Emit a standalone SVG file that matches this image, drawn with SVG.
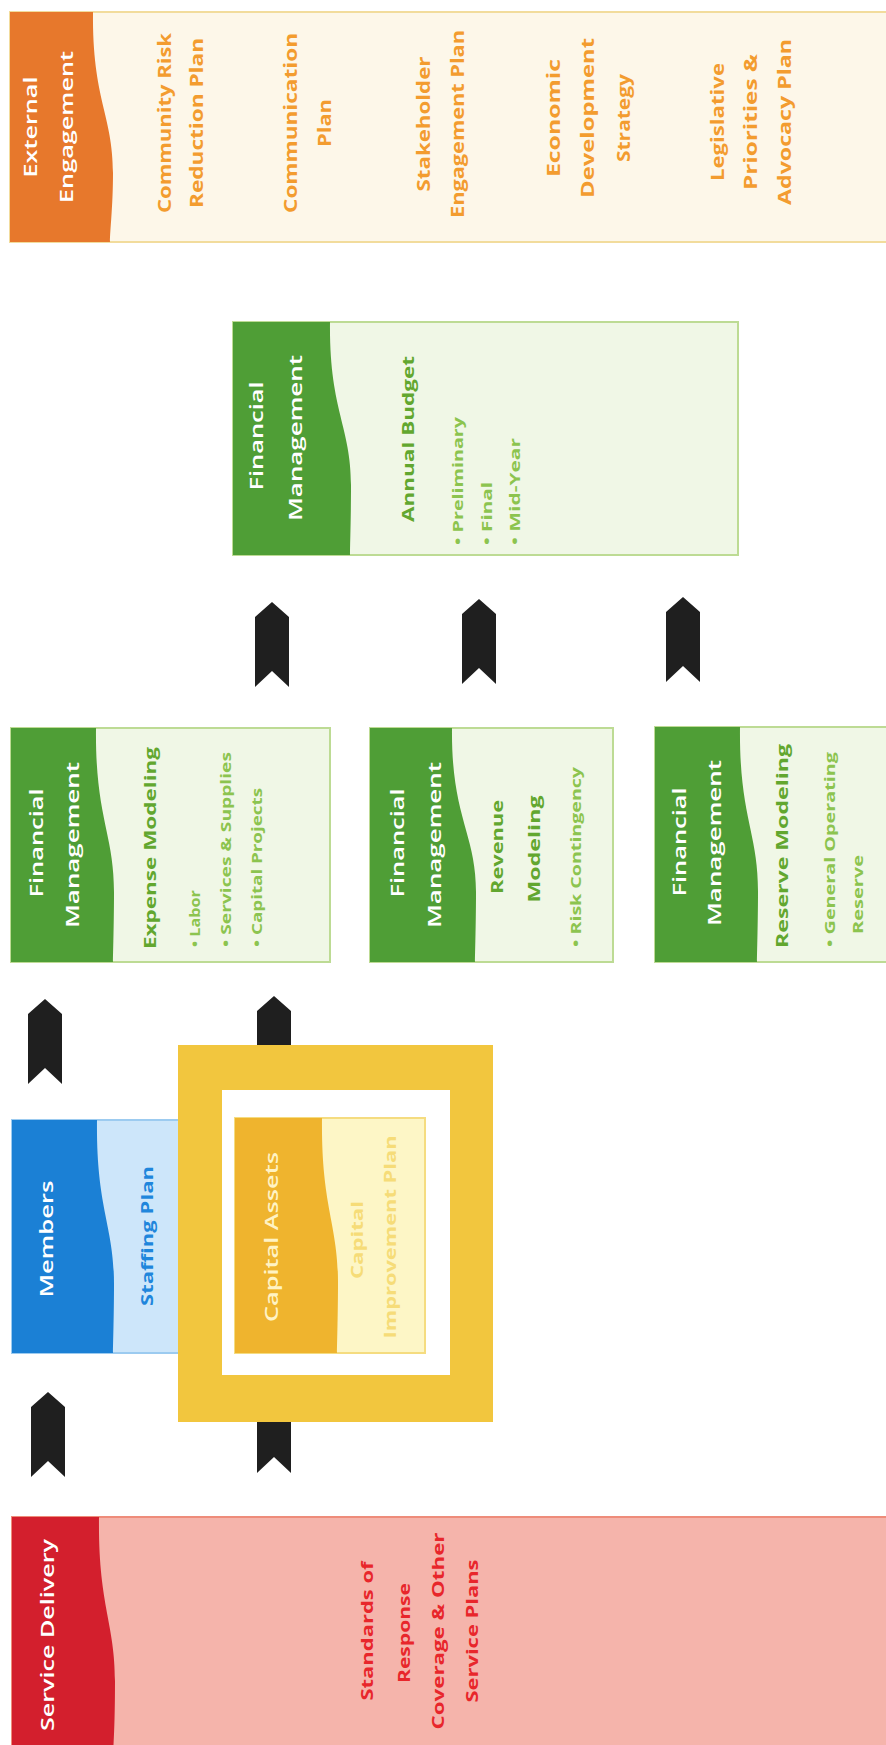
<svg xmlns="http://www.w3.org/2000/svg" xmlns:xlink="http://www.w3.org/1999/xlink" width="886" height="1745" viewBox="0 0 886 1745">
<style>
text{font-family:"Open Sans","Liberation Sans",sans-serif;}
.h{fill:#ffffff;font-size:18.5px;font-weight:600;text-anchor:middle;}
.ob{fill:#f39c2f;font-size:17px;font-weight:700;text-anchor:middle;}
.gb{fill:#62a72f;font-size:16.5px;font-weight:700;text-anchor:middle;}
.gl{fill:#8cc44f;font-size:15px;font-weight:700;text-anchor:start;}
.bb{fill:#1f86dc;font-size:16.5px;font-weight:700;text-anchor:middle;}
.yw{fill:#fff3c4;font-size:18.5px;font-weight:600;text-anchor:middle;}
.yb{fill:#f6dc78;font-size:16.5px;font-weight:700;text-anchor:middle;}
.rb{fill:#e8262b;font-size:16.5px;font-weight:700;text-anchor:middle;}
.chev{fill:#1f1f1f;}
</style>
<defs>
<path id="chev" d="M0,0 L17,15 L17,85 L0,69 L-17,85 L-17,15 Z"/>
</defs>
<rect width="886" height="1745" fill="#ffffff"/>

<g id="connectors">
<use xlink:href="#chev" href="#chev" class="chev" x="272" y="602"/>
<use xlink:href="#chev" href="#chev" class="chev" x="479" y="599"/>
<use xlink:href="#chev" href="#chev" class="chev" x="683" y="597"/>
<use xlink:href="#chev" href="#chev" class="chev" x="45" y="999"/>
<use xlink:href="#chev" href="#chev" class="chev" x="274" y="996"/>
<use xlink:href="#chev" href="#chev" class="chev" x="48" y="1392"/>
<use xlink:href="#chev" href="#chev" class="chev" x="274" y="1388"/>
</g>

<g id="external-engagement">
<rect x="10" y="12" width="880" height="230" fill="#fdf7e9" stroke="#f2dc9c" stroke-width="2"/>
<path d="M10,12 H93 C92,99 113,115 113,173 C113,207 110,230 110,242 H10 Z" fill="#e7782c"/>
<text class="h" transform="translate(37,127) rotate(-90)" textLength="101" lengthAdjust="spacingAndGlyphs">External</text>
<text class="h" transform="translate(73,127) rotate(-90)" textLength="152" lengthAdjust="spacingAndGlyphs">Engagement</text>
<text class="ob" transform="translate(171,123) rotate(-90)" textLength="180" lengthAdjust="spacingAndGlyphs">Community Risk</text>
<text class="ob" transform="translate(203,123) rotate(-90)" textLength="170" lengthAdjust="spacingAndGlyphs">Reduction Plan</text>
<text class="ob" transform="translate(297,123) rotate(-90)" textLength="180" lengthAdjust="spacingAndGlyphs">Communication</text>
<text class="ob" transform="translate(331,123) rotate(-90)" textLength="48" lengthAdjust="spacingAndGlyphs">Plan</text>
<text class="ob" transform="translate(430,124) rotate(-90)" textLength="135" lengthAdjust="spacingAndGlyphs">Stakeholder</text>
<text class="ob" transform="translate(464,124) rotate(-90)" textLength="188" lengthAdjust="spacingAndGlyphs">Engagement Plan</text>
<text class="ob" transform="translate(560,118) rotate(-90)" textLength="118" lengthAdjust="spacingAndGlyphs">Economic</text>
<text class="ob" transform="translate(594,118) rotate(-90)" textLength="160" lengthAdjust="spacingAndGlyphs">Development</text>
<text class="ob" transform="translate(630,118) rotate(-90)" textLength="88" lengthAdjust="spacingAndGlyphs">Strategy</text>
<text class="ob" transform="translate(724,122) rotate(-90)" textLength="118" lengthAdjust="spacingAndGlyphs">Legislative</text>
<text class="ob" transform="translate(757,122) rotate(-90)" textLength="136" lengthAdjust="spacingAndGlyphs">Priorities &amp;</text>
<text class="ob" transform="translate(791,122) rotate(-90)" textLength="166" lengthAdjust="spacingAndGlyphs">Advocacy Plan</text>
</g>

<g id="annual-budget">
<rect x="233" y="322" width="505" height="233" fill="#f0f7e6" stroke="#bddb94" stroke-width="2"/>
<path d="M233,322 H330 C329,410 351,426 351,485 C351,520 350,545 350,555 H233 Z" fill="#4f9e36"/>
<text class="h" transform="translate(263,436) rotate(-90)" textLength="109" lengthAdjust="spacingAndGlyphs">Financial</text>
<text class="h" transform="translate(302,438) rotate(-90)" textLength="166" lengthAdjust="spacingAndGlyphs">Management</text>
<text class="gb" transform="translate(414,439) rotate(-90)" textLength="166" lengthAdjust="spacingAndGlyphs">Annual Budget</text>
<text class="gl" transform="translate(463,545) rotate(-90)" textLength="128" lengthAdjust="spacingAndGlyphs">• Preliminary</text>
<text class="gl" transform="translate(492,545) rotate(-90)" textLength="63" lengthAdjust="spacingAndGlyphs">• Final</text>
<text class="gl" transform="translate(520,545) rotate(-90)" textLength="107" lengthAdjust="spacingAndGlyphs">• Mid-Year</text>
</g>

<g id="expense-modeling">
<rect x="11" y="728" width="319" height="234" fill="#f0f7e6" stroke="#bddb94" stroke-width="2"/>
<path d="M11,728 H96 C95,817 114,833 114,892 C114,927 113,952 113,962 H11 Z" fill="#4f9e36"/>
<text class="h" transform="translate(43,843) rotate(-90)" textLength="109" lengthAdjust="spacingAndGlyphs">Financial</text>
<text class="h" transform="translate(79,845) rotate(-90)" textLength="166" lengthAdjust="spacingAndGlyphs">Management</text>
<text class="gb" transform="translate(156,848) rotate(-90)" textLength="202" lengthAdjust="spacingAndGlyphs">Expense Modeling</text>
<text class="gl" transform="translate(200,947) rotate(-90)" textLength="57" lengthAdjust="spacingAndGlyphs">• Labor</text>
<text class="gl" transform="translate(231,947) rotate(-90)" textLength="195" lengthAdjust="spacingAndGlyphs">• Services &amp; Supplies</text>
<text class="gl" transform="translate(262,947) rotate(-90)" textLength="159" lengthAdjust="spacingAndGlyphs">• Capital Projects</text>
</g>

<g id="revenue-modeling">
<rect x="370" y="728" width="243" height="234" fill="#f0f7e6" stroke="#bddb94" stroke-width="2"/>
<path d="M370,728 H452 C451,817 476,833 476,892 C476,927 475,952 475,962 H370 Z" fill="#4f9e36"/>
<text class="h" transform="translate(404,843) rotate(-90)" textLength="109" lengthAdjust="spacingAndGlyphs">Financial</text>
<text class="h" transform="translate(441,845) rotate(-90)" textLength="166" lengthAdjust="spacingAndGlyphs">Management</text>
<text class="gb" transform="translate(503,847) rotate(-90)" textLength="94" lengthAdjust="spacingAndGlyphs">Revenue</text>
<text class="gb" transform="translate(540,849) rotate(-90)" textLength="107" lengthAdjust="spacingAndGlyphs">Modeling</text>
<text class="gl" transform="translate(581,947) rotate(-90)" textLength="180" lengthAdjust="spacingAndGlyphs">• Risk Contingency</text>
</g>

<g id="reserve-modeling">
<rect x="655" y="727" width="240" height="235" fill="#f0f7e6" stroke="#bddb94" stroke-width="2"/>
<path d="M655,727 H740 C739,816 758,832 758,891 C758,926 757,951 757,962 H655 Z" fill="#4f9e36"/>
<text class="h" transform="translate(686,842) rotate(-90)" textLength="109" lengthAdjust="spacingAndGlyphs">Financial</text>
<text class="h" transform="translate(721,843) rotate(-90)" textLength="166" lengthAdjust="spacingAndGlyphs">Management</text>
<text class="gb" transform="translate(788,846) rotate(-90)" textLength="204" lengthAdjust="spacingAndGlyphs">Reserve Modeling</text>
<text class="gl" transform="translate(835,947) rotate(-90)" textLength="195" lengthAdjust="spacingAndGlyphs">• General Operating</text>
<text class="gl" transform="translate(863,934) rotate(-90)" textLength="79" lengthAdjust="spacingAndGlyphs">Reserve</text>
</g>

<g id="members">
<rect x="12" y="1120" width="178" height="233" fill="#cde6fa" stroke="#9ccbf0" stroke-width="2"/>
<path d="M12,1120 H97 C96,1209 114,1225 114,1284 C114,1319 113,1343 113,1353 H12 Z" fill="#1b80d5"/>
<text class="h" transform="translate(53,1239) rotate(-90)" textLength="117" lengthAdjust="spacingAndGlyphs">Members</text>
<text class="bb" transform="translate(153,1236) rotate(-90)" textLength="140" lengthAdjust="spacingAndGlyphs">Staffing Plan</text>
</g>

<g id="capital-assets">
<rect x="178" y="1045" width="315" height="377" fill="#f2c63e"/>
<rect x="222" y="1090" width="228" height="285" fill="#ffffff"/>
<rect x="235" y="1118" width="190" height="235" fill="#fdf6c6" stroke="#f5dc80" stroke-width="2"/>
<path d="M235,1118 H322 C321,1207 338,1223 338,1282 C338,1317 337,1343 337,1353 H235 Z" fill="#efb42e"/>
<text class="yw" transform="translate(278,1237) rotate(-90)" textLength="170" lengthAdjust="spacingAndGlyphs">Capital Assets</text>
<text class="yb" transform="translate(363,1240) rotate(-90)" textLength="78" lengthAdjust="spacingAndGlyphs">Capital</text>
<text class="yb" transform="translate(396,1237) rotate(-90)" textLength="203" lengthAdjust="spacingAndGlyphs">Improvement Plan</text>
</g>

<g id="service-delivery">
<rect x="12" y="1517" width="880" height="235" fill="#f5b4ab" stroke="#ee8c7a" stroke-width="2"/>
<path d="M12,1517 H99 C98,1606 115,1622 115,1681 C115,1716 114,1740 113,1752 H12 Z" fill="#d31f2d"/>
<text class="h" transform="translate(54,1635) rotate(-90)" textLength="192" lengthAdjust="spacingAndGlyphs">Service Delivery</text>
<text class="rb" transform="translate(373,1631) rotate(-90)" textLength="139" lengthAdjust="spacingAndGlyphs">Standards of</text>
<text class="rb" transform="translate(410,1633) rotate(-90)" textLength="100" lengthAdjust="spacingAndGlyphs">Response</text>
<text class="rb" transform="translate(444,1631) rotate(-90)" textLength="197" lengthAdjust="spacingAndGlyphs">Coverage &amp; Other</text>
<text class="rb" transform="translate(478,1631) rotate(-90)" textLength="143" lengthAdjust="spacingAndGlyphs">Service Plans</text>
</g>
</svg>
